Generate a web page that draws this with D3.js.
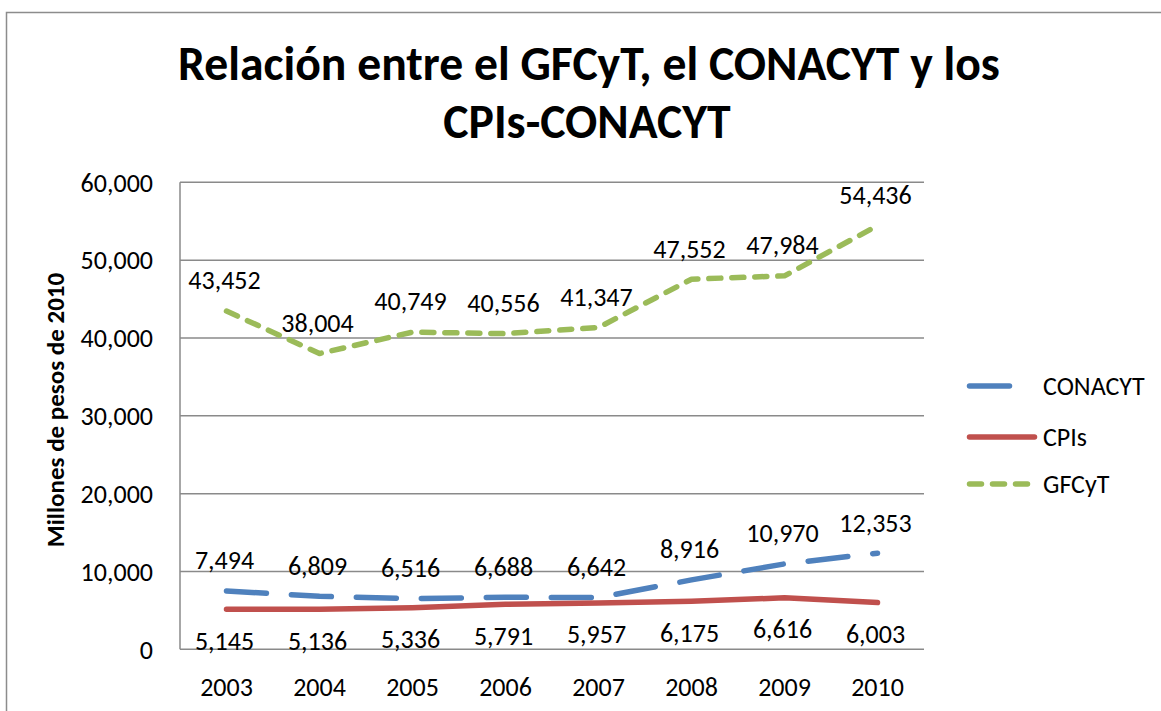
<!DOCTYPE html>
<html>
<head>
<meta charset="utf-8">
<script src="https://cdn.jsdelivr.net/npm/d3@7"></script>
<style>
  html, body { margin: 0; padding: 0; background: #fff; }
  svg { display: block; }
  text { font-family: Carlito, Lato, "Open Sans", sans-serif; fill: #000; }
</style>
</head>
<body>
<script>
// ---- data ----
const years = ["2003", "2004", "2005", "2006", "2007", "2008", "2009", "2010"];
const conacyt = [7494, 6809, 6516, 6688, 6642, 8916, 10970, 12353];
const cpis = [5145, 5136, 5336, 5791, 5957, 6175, 6616, 6003];
const gfcyt = [43452, 38004, 40749, 40556, 41347, 47552, 47984, 54436];
const yTicks = [0, 10000, 20000, 30000, 40000, 50000, 60000];
const titleLines = ["Relación entre el GFCyT, el CONACYT y los", "CPIs-CONACYT"];
const yTitle = "Millones de pesos de 2010";
const seriesNames = ["CONACYT", "CPIs", "GFCyT"];

const W = 1161, H = 711;
const svg = d3.select("body").append("svg").attr("width", W).attr("height", H);

// outer chart border
svg.append("rect").attr("x", 6.5).attr("y", 12.5).attr("width", 1300).attr("height", 900)
  .attr("fill", "none").attr("stroke", "#8c8c8c").attr("stroke-width", 1.5);

const plot = { left: 180, right: 924, top: 182.3, bottom: 649.3 };
const x = d3.scaleBand().domain(years).range([plot.left, plot.right]);
const y = d3.scaleLinear().domain([0, 60000]).range([plot.bottom, plot.top]);
const cx = d => x(d) + x.bandwidth() / 2;

const FS = 26;

// gridlines
svg.append("g").selectAll("line").data(yTicks).join("line")
  .attr("x1", plot.left).attr("x2", plot.right)
  .attr("y1", d => y(d)).attr("y2", d => y(d))
  .attr("stroke", "#8a8a8a").attr("stroke-width", 1.5);
// left axis line
svg.append("line").attr("x1", plot.left).attr("x2", plot.left)
  .attr("y1", plot.top).attr("y2", plot.bottom)
  .attr("stroke", "#8a8a8a").attr("stroke-width", 1.5);

// y tick labels
const fmt = d3.format(",");
svg.append("g").selectAll("text").data(yTicks).join("text")
  .attr("x", 153).attr("y", d => y(d)).attr("dy", "0.36em")
  .attr("text-anchor", "end").attr("font-size", FS)
  .text(d => fmt(d));

// x labels
svg.append("g").selectAll("text").data(years).join("text")
  .attr("x", d => cx(d)).attr("y", 696).attr("text-anchor", "middle")
  .attr("font-size", FS).text(d => d);

// title
const tt = svg.append("g").attr("font-weight", "bold");
tt.append("text").attr("x", 589).attr("y", 80).attr("text-anchor", "middle")
  .attr("font-size", 40).text(titleLines[0]);
tt.append("text").attr("x", 587).attr("y", 138).attr("text-anchor", "middle")
  .attr("font-size", 40).text(titleLines[1]);
// fit title width to 822 px
(function () {
  const t0 = tt.select("text").node();
  const w = t0.getComputedTextLength();
  const fs = 40 * 822 / w;
  tt.selectAll("text").attr("font-size", fs);
})();

// y axis title
svg.append("text").attr("transform", "translate(64,410) rotate(-90)")
  .attr("text-anchor", "middle").attr("font-weight", "bold").attr("font-size", 25)
  .text(yTitle);

// series
const series = [
  { name: seriesNames[0], values: conacyt, color: "#4F81BD", dash: "40,25", labelDy: -31 },
  { name: seriesNames[1], values: cpis, color: "#C0504D", dash: null, labelDy: 31 },
  { name: seriesNames[2], values: gfcyt, color: "#9BBB59", dash: "12,11", labelDy: -31 }
];

const line = d3.line().x((d, i) => cx(years[i])).y(d => y(d));

series.forEach(s => {
  svg.append("path").datum(s.values).attr("d", line)
    .attr("fill", "none").attr("stroke", s.color).attr("stroke-width", 5.5)
    .attr("stroke-linecap", "round").attr("stroke-linejoin", "round")
    .attr("stroke-dasharray", s.dash);
  svg.append("g").selectAll("text").data(s.values).join("text")
    .attr("x", (d, i) => cx(years[i]) - 2).attr("y", d => y(d) + s.labelDy)
    .attr("dy", "0.36em").attr("text-anchor", "middle").attr("font-size", FS)
    .text(d => fmt(d));
});

// legend
const legY = [386, 437, 484];
const leg = svg.append("g");
series.forEach((s, i) => {
  leg.append("line").attr("x1", 969.5).attr("x2", 1034.5).attr("y1", legY[i]).attr("y2", legY[i])
    .attr("stroke", s.color).attr("stroke-width", 5.5).attr("stroke-linecap", "round")
    .attr("stroke-dasharray", s.dash);
  leg.append("text").attr("x", 1043).attr("y", legY[i]).attr("dy", "0.36em")
    .attr("font-size", FS).text(s.name);
});
</script>
</body>
</html>
